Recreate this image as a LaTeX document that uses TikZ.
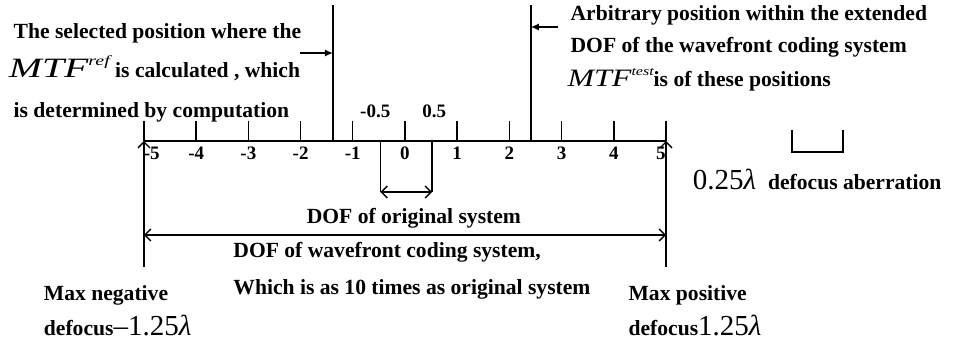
\documentclass[tikz,border=0pt]{standalone}
\usepackage{fontspec}
\setmainfont{Liberation Serif}
\newfontfamily\symfont{Liberation Serif}
\usepackage{graphicx}
\usetikzlibrary{arrows.meta}

\tikzset{
    txt/.style={font=\fontsize{21.6}{25}\selectfont\bfseries, inner sep=0pt, anchor=base west},
    numlbl/.style={font=\fontsize{19}{22}\selectfont\bfseries, inner sep=0pt, anchor=base},
    ptr/.style={-{Latex[length=8pt,width=7pt]}},
}
% 大号公式文字（用文本字体代替数学字体）
\newcommand{\bigsym}[1]{{\symfont\mdseries\fontsize{29}{30}\selectfont#1}}
\newcommand{\mtf}[3]{{\symfont\mdseries\itshape\fontsize{#1}{#1}\selectfont\scalebox{#2}[1]{MTF\raisebox{0.45em}{\fontsize{0.5\dimexpr#1pt}{1}\selectfont#3}}}}

\begin{document}
\begin{tikzpicture}[
    x=52.2pt, y=1pt,  % 一个刻度 = 0.25 lambda
    line width=1.4pt,
    >={Straight Barb[length=6pt,width=12pt]}
]
    \useasboundingbox (-7.7586,141) rectangle (10.4981,-204);

    % 数轴
    \coordinate (axL) at (-5,0);
    \coordinate (axR) at (5,0);
    \draw (axL) -- (axR);

    % 刻度与数字：位置/标签位置
    \foreach \x/\lx in {-5/-4.85, -4/-4, -3/-3, -2/-2, -1/-1, 0/0, 1/1, 2/2, 3/3, 4/4, 5/4.9} {
        \draw (\x,0) -- (\x,20);
        \node[numlbl] (num\x) at (\lx,-19) {\x};
    }
    \node[numlbl] (mhalf) at (-0.57,23) {-0.5};
    \node[numlbl] (phalf) at (0.56,23) {0.5};

    % 1. MTF^ref 的位置
    \coordinate (refTop) at (-1.38,136);
    \coordinate (refBot) at (-1.38,0);
    \draw (refTop) -- (refBot);
    \coordinate (refTail) at (-2.01,88);
    \draw[ptr] (refTail) -- (refTail -| refBot);

    \node[txt] (refA) at (-7.51,102) {The selected position where the};
    \node[txt] (refB) at (-7.60,63) {\mtf{28}{1.42}{ref} is calculated , which};
    \node[txt] (refC) at (-7.51,23) {is determined by computation};

    % 2. MTF^test 的位置
    \coordinate (testTop) at (2.41,136);
    \coordinate (testBot) at (2.41,0);
    \draw (testTop) -- (testBot);
    \coordinate (testTail) at (2.93,114);
    \draw[ptr] (testTail) -- (testTail -| testBot);

    \node[txt] (testA) at (3.16,120) {Arbitrary position within the extended};
    \node[txt] (testB) at (3.16,88) {DOF of the wavefront coding system};
    \node[txt] (testC) at (3.10,54) {\mtf{25}{1.28}{test}is of these positions};

    % 3. 原系统景深
    \coordinate (oL) at (-0.47,0);
    \coordinate (oR) at (0.52,0);
    \coordinate (oLb) at (-0.47,-51);
    \coordinate (oRb) at (0.52,-51);
    \draw (oL) -- (oLb);
    \draw (oR) -- (oRb);
    \draw[<->] (oLb) -- (oRb);
    \node[txt, anchor=base] (dofO) at (0.17,-83) {DOF of original system};

    % 4. 波前编码系统景深
    \coordinate (negFoot) at (-5,-126);
    \coordinate (posFoot) at (5,-126);
    \draw[->] (negFoot) -- (axL);
    \draw[->] (posFoot) -- (axR);
    \coordinate (wL) at (-5,-94);
    \coordinate (wR) at (5,-94);
    \draw[<->] (wL) -- (wR);
    \node[txt] (dofW) at (-3.30,-117) {DOF of wavefront coding system,};
    \node[txt] (dofW2) at (-3.30,-153) {Which is as 10 times as original system};

    % 5. 两端最大离焦
    \node[txt] (negA) at (-6.93,-159) {Max negative};
    \node[txt] (negB) at (-6.93,-194) {defocus\bigsym{–1.25\textit{λ}}};
    \node[txt] (posA) at (4.27,-159) {Max positive};
    \node[txt] (posB) at (4.27,-194) {defocus\bigsym{1.25\textit{λ}}};

    % 图例：一个刻度
    \draw (7.41,11) -- (7.41,-11) -- (8.39,-11) -- (8.39,11);
    \node[txt] (unit) at (5.50,-49) {\bigsym{0.25\textit{λ}}\hspace{12pt}defocus aberration};
\end{tikzpicture}
\end{document}
